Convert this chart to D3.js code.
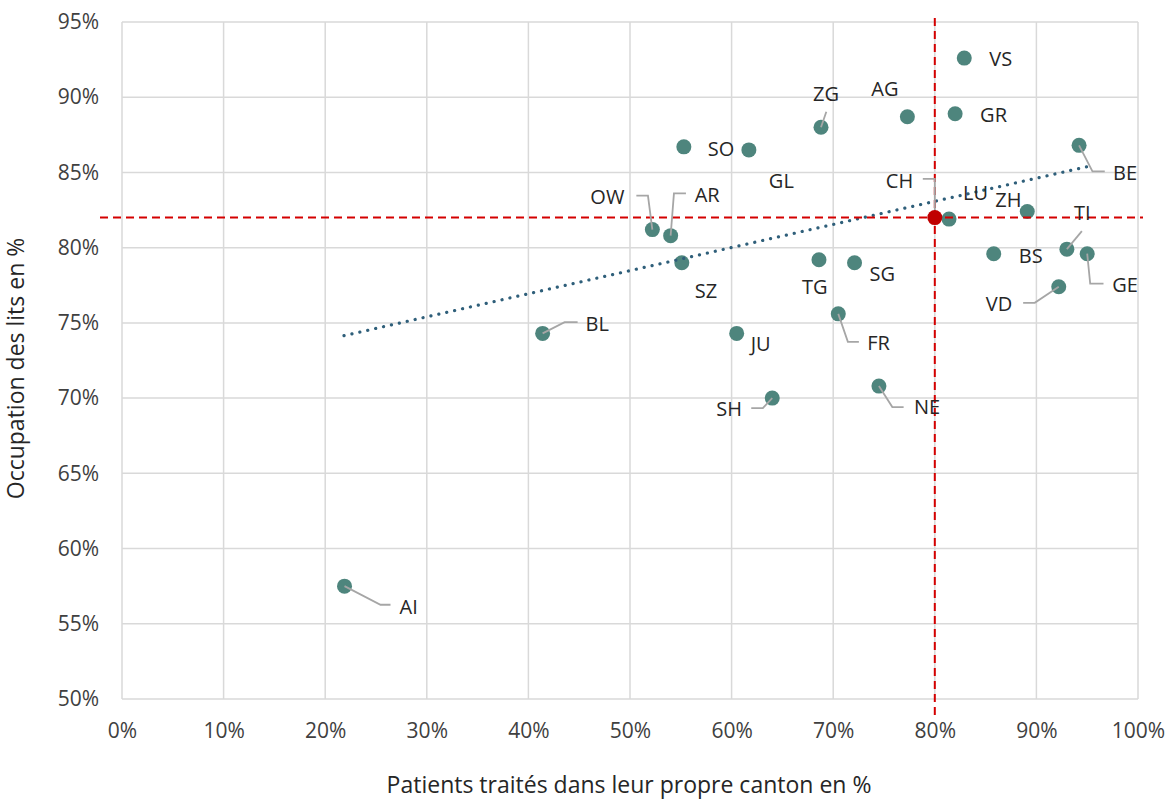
<!DOCTYPE html>
<html>
<head>
<meta charset="utf-8">
<script src="https://cdn.jsdelivr.net/npm/d3@7"></script>
<style>
  body { margin: 0; background: #fff; }
  text { font-family: "Open Sans", "Noto Sans", sans-serif; fill: #262626; }
</style>
</head>
<body>
<div id="chart"></div>
<script>
// data
const cantons   = ["AI", "BL", "OW", "AR", "SZ", "SO", "JU", "GL", "SH", "TG", "ZG", "FR", "SG", "NE", "AG", "LU", "GR", "VS", "BS", "ZH", "VD", "TI", "BE", "GE"];
const ownCanton = [21.9, 41.4, 52.2, 54.0, 55.1, 55.3, 60.5, 61.7, 64.0, 68.6, 68.8, 70.5, 72.1, 74.5, 77.3, 81.4, 82.0, 82.9, 85.8, 89.1, 92.2, 93.0, 94.2, 95.0];
const occupancy = [57.5, 74.3, 81.2, 80.8, 79.0, 86.7, 74.3, 86.5, 70.0, 79.2, 88.0, 75.6, 79.0, 70.8, 88.7, 81.9, 88.9, 92.6, 79.6, 82.4, 77.4, 79.9, 86.8, 79.6];
const chLabel = "CH";
const chValue = [80, 82];
const trendX = [21.85, 95.1];
const trendY = [74.15, 85.4];
const xTicks = [0, 10, 20, 30, 40, 50, 60, 70, 80, 90, 100];
const yTicks = [50, 55, 60, 65, 70, 75, 80, 85, 90, 95];
const xTitle = "Patients traités dans leur propre canton en %";
const yTitle = "Occupation des lits en %";

// label placement (pixel offsets from point: text start, leader elbows)
const labelPos = {
  AI: {d: [55, 21], lead: [[36, 18.6], [46, 18.6]]},
  BL: {d: [43, -9], lead: [[22, -11.3], [35, -11.3]]},
  OW: {d: [-62, -33], lead: [[-4.4, -34], [-16, -34]]},
  AR: {d: [24, -41], lead: [[3.3, -42.3], [15.3, -42.3]]},
  SZ: {d: [13, 28]},
  SO: {d: [24, 2]},
  JU: {d: [14, 11]},
  GL: {d: [20, 31]},
  SH: {d: [-56, 11], lead: [[-9.4, 10], [-21, 10]]},
  TG: {d: [-17, 27]},
  ZG: {d: [-8, -33], lead: [[5.3, -15.6]]},
  FR: {d: [29, 29], lead: [[9.6, 28], [20.6, 28]]},
  SG: {d: [15, 11]},
  NE: {d: [35, 21], lead: [[13.4, 21], [24.7, 21]]},
  AG: {d: [-36, -28]},
  LU: {d: [14, -26]},
  GR: {d: [25, 1]},
  VS: {d: [25, 1]},
  BS: {d: [25, 2]},
  ZH: {d: [-32, -12]},
  VD: {d: [-73, 17], lead: [[-24, 16], [-35.6, 16]]},
  TI: {d: [7, -36], lead: [[15, -18]]},
  BE: {d: [34, 28], lead: [[13.4, 26], [25.7, 26]]},
  GE: {d: [25, 31], lead: [[3, 30], [16.3, 30]]},
  CH: {d: [-49, -37], lead: [[0, -38.7], [-12, -38.7]]}
};

const W = 1171, H = 801;
const margin = {top: 22, right: 33, bottom: 102, left: 122};
const width = W - margin.left - margin.right,
      height = H - margin.top - margin.bottom;

const svg = d3.select("#chart")
  .append("svg")
    .attr("width", W)
    .attr("height", H)
  .append("g")
    .attr("transform", `translate(${margin.left},${margin.top})`);

const x = d3.scaleLinear().domain([0, 100]).range([0, width]);
const y = d3.scaleLinear().domain([50, 95]).range([height, 0]);

// grid
svg.append("g")
  .selectAll("line.vx")
  .data(xTicks)
  .join("line")
    .attr("x1", d => x(d)).attr("x2", d => x(d))
    .attr("y1", 0).attr("y2", height)
    .style("stroke", "#d9d9d9").style("stroke-width", 1.5);
svg.append("g")
  .selectAll("line.hy")
  .data(yTicks)
  .join("line")
    .attr("x1", 0).attr("x2", width)
    .attr("y1", d => y(d)).attr("y2", d => y(d))
    .style("stroke", "#d9d9d9").style("stroke-width", 1.5);

// axes (labels only)
const xAxis = svg.append("g")
  .attr("transform", `translate(0,${height})`)
  .call(d3.axisBottom(x).tickValues(xTicks).tickSize(0).tickPadding(24).tickFormat(d => d + "%"));
const yAxis = svg.append("g")
  .call(d3.axisLeft(y).tickValues(yTicks).tickSize(0).tickPadding(23).tickFormat(d => d + "%"));
[xAxis, yAxis].forEach(a => {
  a.select(".domain").remove();
  a.selectAll("text").style("font-size", "21px").style("fill", "#404040");
});

const data = cantons.map((c, i) => ({name: c, px: x(ownCanton[i]), py: y(occupancy[i])}));
const ch = {name: chLabel, px: x(chValue[0]), py: y(chValue[1])};

// points
svg.append("g")
  .selectAll("circle")
  .data(data)
  .join("circle")
    .attr("cx", d => d.px)
    .attr("cy", d => d.py)
    .attr("r", 7.5)
    .style("fill", "#4e857d");

// trend line
svg.append("line")
  .attr("x1", x(trendX[0])).attr("y1", y(trendY[0]))
  .attr("x2", x(trendX[1])).attr("y2", y(trendY[1]))
  .style("stroke", "#2f5f7a")
  .style("stroke-width", 3.2)
  .style("stroke-linecap", "round")
  .style("stroke-dasharray", "0.1 8");

// reference lines for CH
svg.append("line")
  .attr("x1", -22).attr("x2", width + 5)
  .attr("y1", y(chValue[1])).attr("y2", y(chValue[1]))
  .style("stroke", "#d40000").style("stroke-width", 2).style("stroke-dasharray", "8 5");
svg.append("line")
  .attr("x1", x(chValue[0])).attr("x2", x(chValue[0]))
  .attr("y1", -4).attr("y2", height + 17)
  .style("stroke", "#d40000").style("stroke-width", 2).style("stroke-dasharray", "8 5");

const all = data.concat([ch]);

// leader lines
const line = d3.line();
svg.append("g")
  .selectAll("path")
  .data(all.filter(d => labelPos[d.name].lead))
  .join("path")
    .attr("d", d => line([[d.px, d.py]].concat(labelPos[d.name].lead.map(o => [d.px + o[0], d.py + o[1]]))))
    .style("fill", "none")
    .style("stroke", "#a6a6a6")
    .style("stroke-width", 1.8);

svg.append("circle")
  .attr("cx", ch.px).attr("cy", ch.py).attr("r", 7.5)
  .style("fill", "#c00000");

// labels
svg.append("g")
  .selectAll("text")
  .data(all)
  .join("text")
    .attr("x", d => d.px + labelPos[d.name].d[0])
    .attr("y", d => d.py + labelPos[d.name].d[1])
    .attr("dy", "0.35em")
    .style("font-size", "20px")
    .text(d => d.name);

// axis titles
svg.append("text")
  .attr("x", width / 2 - 1)
  .attr("y", height + 94)
  .attr("text-anchor", "middle")
  .style("font-size", "23px")
  .text(xTitle);
svg.append("text")
  .attr("transform", `translate(${-98},${height / 2 + 8}) rotate(-90)`)
  .attr("text-anchor", "middle")
  .style("font-size", "23px")
  .text(yTitle);
</script>
</body>
</html>
